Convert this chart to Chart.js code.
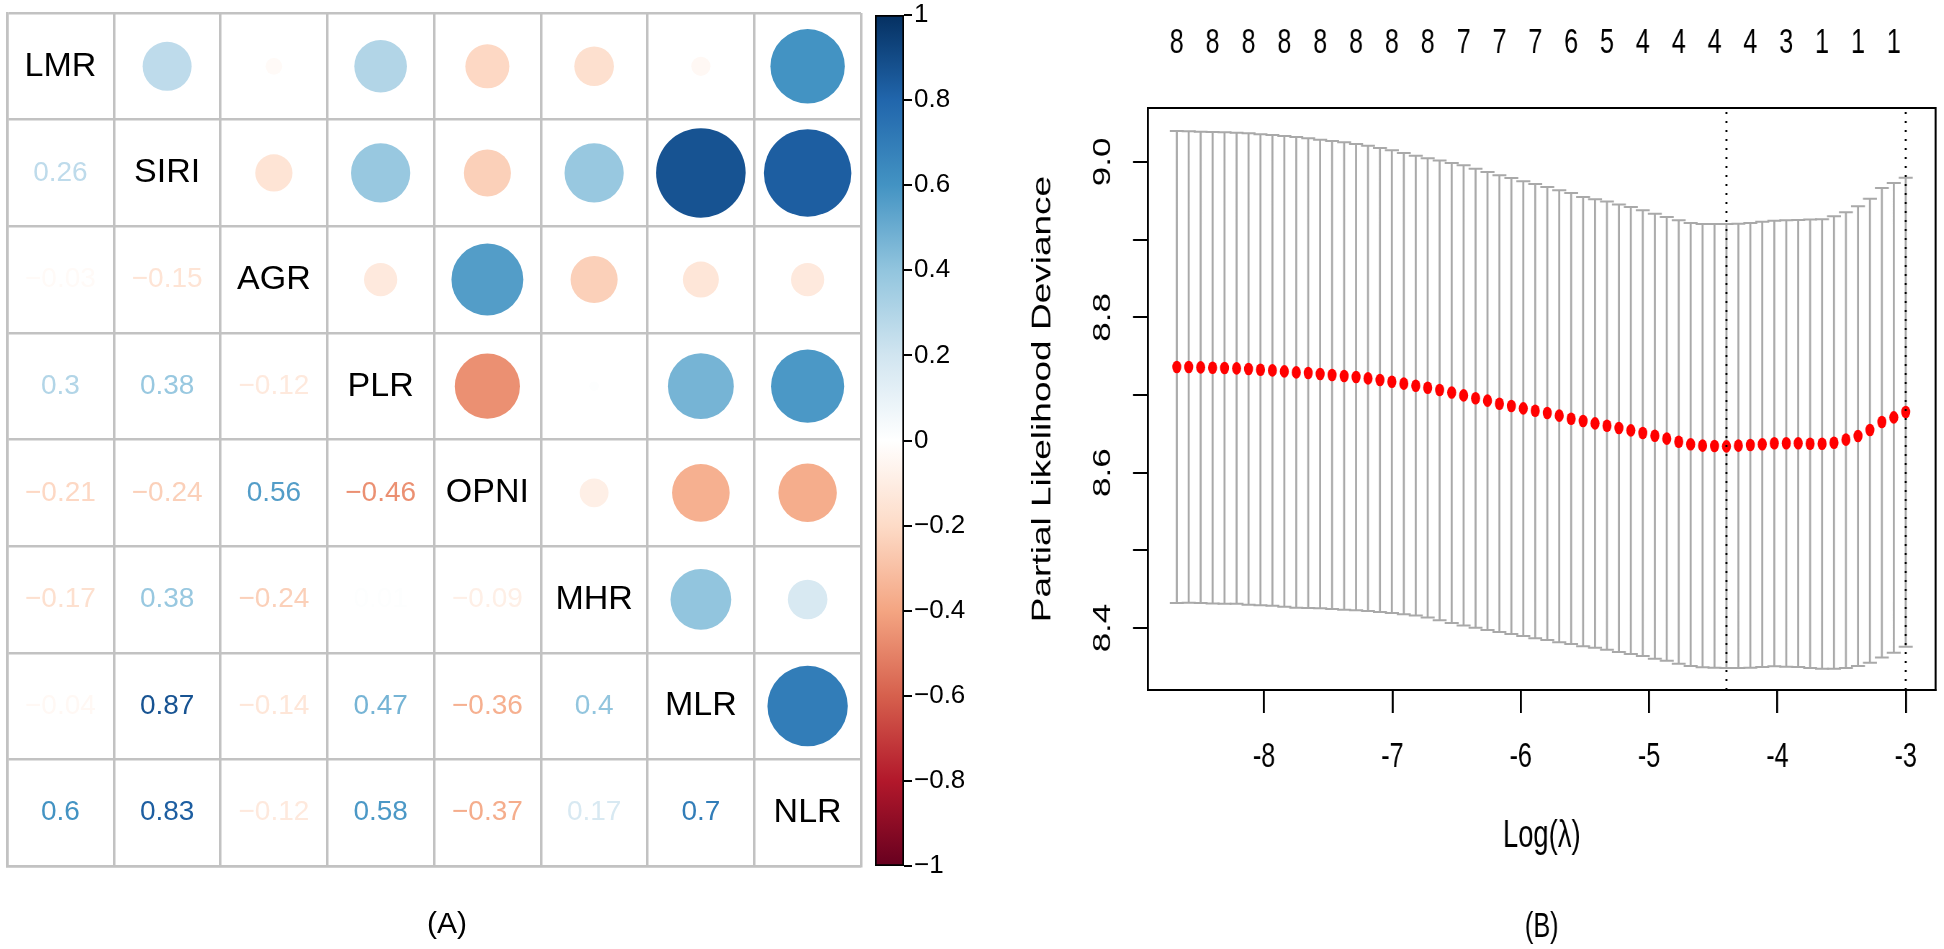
<!DOCTYPE html>
<html>
<head>
<meta charset="utf-8">
<title>Correlation matrix and LASSO CV</title>
<script src="https://cdn.jsdelivr.net/npm/chart.js@4.4.1/dist/chart.umd.min.js"></script>
<style>
  html, body { margin: 0; padding: 0; background: #fff; }
  body { width: 1944px; height: 949px; position: relative; overflow: hidden; }
  canvas { position: absolute; top: 0; }
  #corr-canvas { left: 0; }
  #colorbar-canvas { left: 860px; }
  /* panel B is horizontally squeezed in the original figure */
  #cv-canvas { left: 1000px; transform: scaleX(0.72); transform-origin: 0 0; }
</style>
</head>
<body>
<canvas id="corr-canvas" width="894" height="949"></canvas>
<canvas id="colorbar-canvas" width="130" height="949"></canvas>
<canvas id="cv-canvas" width="1311" height="949"></canvas>
<script>
// ---- panel A data ----
const varNames = ['LMR', 'SIRI', 'AGR', 'PLR', 'OPNI', 'MHR', 'MLR', 'NLR'];
// lower triangle, row i holds correlations with columns 0..i-1
const corrLower = [
    [],
    [0.26],
    [-0.03, -0.15],
    [0.3, 0.38, -0.12],
    [-0.21, -0.24, 0.56, -0.46],
    [-0.17, 0.38, -0.24, 0.01, -0.09],
    [-0.04, 0.87, -0.14, 0.47, -0.36, 0.4],
    [0.6, 0.83, -0.12, 0.58, -0.37, 0.17, 0.7]
];
const rdbu = ['#67001F', '#B2182B', '#D6604D', '#F4A582', '#FDDBC7', '#FFFFFF',
              '#D1E5F0', '#92C5DE', '#4393C3', '#2166AC', '#053061'];

// ---- panel B data ----
const logLambda = [
    -8.680, -8.587, -8.494, -8.401, -8.308, -8.214, -8.121, -8.028, -7.935, -7.842,
    -7.749, -7.656, -7.563, -7.470, -7.376, -7.283, -7.190, -7.097, -7.004, -6.911,
    -6.818, -6.725, -6.632, -6.538, -6.445, -6.352, -6.259, -6.166, -6.073, -5.980,
    -5.887, -5.793, -5.700, -5.607, -5.514, -5.421, -5.328, -5.235, -5.142, -5.049,
    -4.955, -4.862, -4.769, -4.676, -4.583, -4.490, -4.397, -4.304, -4.211, -4.118,
    -4.024, -3.931, -3.838, -3.745, -3.652, -3.559, -3.466, -3.372, -3.279, -3.186,
    -3.093, -3.000
];
const cvMean = [
    8.7360, 8.7360, 8.7356, 8.7351, 8.7347, 8.7343, 8.7334, 8.7326, 8.7317, 8.7304,
    8.7291, 8.7283, 8.7270, 8.7257, 8.7244, 8.7231, 8.7214, 8.7193, 8.7171, 8.7146,
    8.7120, 8.7094, 8.7064, 8.7032, 8.6995, 8.6959, 8.6927, 8.6888, 8.6858, 8.6828,
    8.6798, 8.6768, 8.6734, 8.6695, 8.6665, 8.6635, 8.6605, 8.6575, 8.6545, 8.6511,
    8.6476, 8.6438, 8.6399, 8.6365, 8.6348, 8.6343, 8.6339, 8.6348, 8.6356, 8.6365,
    8.6378, 8.6378, 8.6378, 8.6373, 8.6373, 8.6386, 8.6425, 8.6472, 8.6549, 8.6652,
    8.6712, 8.6781
];
const cvUp = [
    9.0399, 9.0395, 9.0390, 9.0386, 9.0382, 9.0375, 9.0369, 9.0358, 9.0347, 9.0335,
    9.0322, 9.0305, 9.0287, 9.0270, 9.0253, 9.0232, 9.0210, 9.0180, 9.0150, 9.0115,
    9.0080, 9.0048, 9.0018, 8.9987, 8.9957, 8.9914, 8.9871, 8.9828, 8.9794, 8.9751,
    8.9717, 8.9678, 8.9635, 8.9601, 8.9550, 8.9520, 8.9490, 8.9451, 8.9421, 8.9378,
    8.9335, 8.9292, 8.9249, 8.9215, 8.9202, 8.9202, 8.9202, 8.9206, 8.9215, 8.9232,
    8.9245, 8.9249, 8.9254, 8.9258, 8.9262, 8.9301, 8.9352, 8.9430, 8.9528, 8.9665,
    8.9730, 8.9798
];
const cvLo = [
    8.4321, 8.4325, 8.4322, 8.4316, 8.4312, 8.4311, 8.4299, 8.4294, 8.4287, 8.4273,
    8.4262, 8.4258, 8.4253, 8.4244, 8.4235, 8.4229, 8.4218, 8.4206, 8.4192, 8.4177,
    8.4160, 8.4135, 8.4100, 8.4065, 8.4034, 8.4004, 8.3974, 8.3949, 8.3923, 8.3897,
    8.3867, 8.3846, 8.3816, 8.3794, 8.3764, 8.3747, 8.3721, 8.3691, 8.3665, 8.3640,
    8.3605, 8.3580, 8.3541, 8.3511, 8.3494, 8.3489, 8.3485, 8.3485, 8.3489, 8.3498,
    8.3507, 8.3502, 8.3498, 8.3485, 8.3477, 8.3477, 8.3485, 8.3511, 8.3554, 8.3622,
    8.3683, 8.3760
];
// number of non-zero coefficients, shown for every 3rd lambda
const nzeroShown = [8, 8, 8, 8, 8, 8, 8, 8, 7, 7, 7, 6, 5, 4, 4, 4, 4, 3, 1, 1, 1];
const nzeroEvery = 3;
const logLambdaMin = -4.397;
const logLambda1se = -3.000;
const xMin = -8.904, xMax = -2.768;
const yMin = 8.3202, yMax = 9.0695;

Chart.defaults.font.family = "'Liberation Sans', Arial, sans-serif";
Chart.defaults.color = '#000';

function hexRgb(h) {
    return [1, 3, 5].map(k => parseInt(h.slice(k, k + 2), 16));
}
function corrColor(v) {
    const t = (v + 1) / 2 * (rdbu.length - 1);
    const k = Math.min(Math.floor(t), rdbu.length - 2);
    const f = t - k;
    const a = hexRgb(rdbu[k]), b = hexRgb(rdbu[k + 1]);
    const c = a.map((av, n) => Math.round(av + (b[n] - av) * f));
    return 'rgb(' + c.join(',') + ')';
}
const fmtNum = v => String(v).replace('-', '\u2212');

// ---------- Panel A: correlation matrix ----------
const circlePoints = [];
varNames.forEach((_, i) => {
    for (let j = i + 1; j < varNames.length; j++) {
        circlePoints.push({ x: j + 0.5, y: i + 0.5, v: corrLower[j][i] });
    }
});

const cellPx = chart => Math.abs(chart.scales.x.getPixelForValue(1) - chart.scales.x.getPixelForValue(0));
const gridGray = '#c2c2c2';

const corrText = {
    id: 'corrText',
    afterDatasetsDraw(chart) {
        const { ctx, scales: { x, y } } = chart;
        ctx.save();
        ctx.textAlign = 'center';
        ctx.textBaseline = 'middle';
        varNames.forEach((name, i) => {
            ctx.fillStyle = '#000';
            ctx.font = "34px 'Liberation Sans', Arial, sans-serif";
            ctx.fillText(name, x.getPixelForValue(i + 0.5), y.getPixelForValue(i + 0.5));
            ctx.font = "28px 'Liberation Sans', Arial, sans-serif";
            corrLower[i].forEach((v, j) => {
                ctx.fillStyle = corrColor(v);
                ctx.fillText(fmtNum(v), x.getPixelForValue(j + 0.5), y.getPixelForValue(i + 0.5));
            });
        });
        ctx.restore();
    }
};

new Chart(document.getElementById('corr-canvas'), {
    type: 'scatter',
    data: {
        datasets: [{
            data: circlePoints,
            pointRadius: ctx => ctx.raw ? 0.45 * Math.sqrt(Math.abs(ctx.raw.v)) * cellPx(ctx.chart) : 0,
            backgroundColor: ctx => ctx.raw ? corrColor(ctx.raw.v) : '#fff',
            borderWidth: 0
        }]
    },
    options: {
        responsive: false,
        animation: false,
        events: [],
        layout: { padding: { top: 13, left: 0, right: 0, bottom: 0 } },
        plugins: {
            legend: { display: false },
            tooltip: { enabled: false },
            title: {
                display: true,
                text: '(A)',
                position: 'bottom',
                color: '#000',
                font: { size: 30, weight: 'normal' },
                padding: { top: 41, bottom: 6 }
            }
        },
        scales: {
            x: {
                type: 'linear', min: 0, max: 8,
                ticks: { display: false, stepSize: 1 },
                grid: { color: gridGray, lineWidth: 2.5, drawTicks: false },
                border: { color: gridGray, width: 2.5 },
                afterFit: s => { s.height = 0; }
            },
            y: {
                type: 'linear', min: 0, max: 8, reverse: true,
                ticks: { display: false, stepSize: 1 },
                grid: { color: gridGray, lineWidth: 2.5, drawTicks: false },
                border: { color: gridGray, width: 2.5 },
                afterFit: s => { s.width = 7; }
            },
            yPad: {
                axis: 'y', position: 'right', display: true,
                ticks: { display: false },
                grid: { display: false, drawTicks: false },
                border: { display: false },
                afterFit: s => { s.width = 33; }
            }
        }
    },
    plugins: [corrText]
});

// ---------- Panel A: colour bar ----------
new Chart(document.getElementById('colorbar-canvas'), {
    type: 'bar',
    data: {
        labels: [''],
        datasets: [{
            data: [[-1, 1]],
            backgroundColor: ctx => {
                const chart = ctx.chart;
                if (!chart.chartArea) return '#fff';
                const y = chart.scales.y;
                const g = chart.ctx.createLinearGradient(0, y.getPixelForValue(-1), 0, y.getPixelForValue(1));
                rdbu.forEach((c, k) => g.addColorStop(k / (rdbu.length - 1), c));
                return g;
            },
            borderColor: '#000',
            borderWidth: 2,
            borderSkipped: false,
            barPercentage: 1,
            categoryPercentage: 1
        }]
    },
    options: {
        responsive: false,
        animation: false,
        events: [],
        layout: { padding: { left: 15, top: 13, bottom: 83, right: 0 } },
        plugins: { legend: { display: false }, tooltip: { enabled: false } },
        scales: {
            x: { display: false },
            y: {
                position: 'right', min: -1, max: 1,
                ticks: {
                    stepSize: 0.2, padding: 2, color: '#000',
                    font: { size: 26, lineHeight: 1 },
                    callback: v => fmtNum(Math.round(v * 10) / 10)
                },
                grid: { drawOnChartArea: false, tickLength: 8, color: '#000', lineWidth: 2 },
                border: { display: false },
                afterFit: s => { s.width = 86; }
            }
        }
    }
});

// ---------- Panel B: cross-validation curve ----------
const errBarSegments = [];
logLambda.forEach((x, i) => {
    errBarSegments.push({ x: x, y: cvLo[i] }, { x: x, y: cvUp[i] }, { x: x, y: null });
});
const capPoints = [];
logLambda.forEach((x, i) => {
    capPoints.push({ x: x, y: cvUp[i] }, { x: x, y: cvLo[i] });
});
const meanPoints = logLambda.map((x, i) => ({ x: x, y: cvMean[i] }));
const refLines = [
    { x: logLambdaMin, y: yMin }, { x: logLambdaMin, y: yMax }, { x: logLambdaMin, y: null },
    { x: logLambda1se, y: yMin }, { x: logLambda1se, y: yMax }
];

new Chart(document.getElementById('cv-canvas'), {
    type: 'scatter',
    data: {
        datasets: [
            {
                data: refLines, showLine: true, spanGaps: false, order: 0,
                borderColor: '#000', borderWidth: 2.8, borderDash: [2, 7], pointRadius: 0
            },
            {
                data: meanPoints, order: 1,
                pointStyle: 'circle', pointRadius: 6.3,
                backgroundColor: '#ff0000', borderWidth: 0
            },
            {
                data: capPoints, order: 2,
                pointStyle: 'line', pointRadius: 9.7,
                borderColor: '#a9a9a9', borderWidth: 2
            },
            {
                data: errBarSegments, showLine: true, spanGaps: false, order: 3,
                borderColor: '#a9a9a9', borderWidth: 2.8, pointRadius: 0
            }
        ]
    },
    options: {
        responsive: false,
        animation: false,
        events: [],
        layout: { padding: { top: 0, left: 0, right: 3, bottom: 0 } },
        plugins: {
            legend: { display: false },
            tooltip: { enabled: false },
            title: {
                display: true,
                text: '(B)',
                position: 'bottom',
                fullSize: false,
                color: '#000',
                font: { size: 35, weight: 'normal' },
                padding: { top: 46.8, bottom: 1 }
            }
        },
        scales: {
            x: {
                type: 'linear', position: 'bottom', min: xMin, max: xMax,
                ticks: {
                    stepSize: 1, includeBounds: false, padding: 23,
                    autoSkip: false, maxRotation: 0, color: '#000',
                    font: { size: 35 },
                    callback: v => String(v)
                },
                grid: { drawOnChartArea: false, tickLength: 23, color: '#000', lineWidth: 2.8 },
                border: { color: '#000', width: 2 },
                title: { display: true, text: 'Log(\u03bb)', color: '#000', font: { size: 38 }, padding: 0 },
                afterFit: s => { s.height = 169.2; }
            },
            xTop: {
                type: 'linear', axis: 'x', position: 'top', display: true, min: xMin, max: xMax,
                afterBuildTicks: s => {
                    s.ticks = nzeroShown.map((_, k) => ({ value: logLambda[k * nzeroEvery] }));
                },
                ticks: {
                    padding: 44, autoSkip: false, maxRotation: 0, color: '#000',
                    font: { size: 35 },
                    callback: (v, k) => String(nzeroShown[k])
                },
                grid: { display: false, drawTicks: false },
                border: { color: '#000', width: 2 },
                afterFit: s => { s.height = 108; }
            },
            y: {
                type: 'linear', position: 'left', min: yMin, max: yMax,
                ticks: {
                    stepSize: 0.1, includeBounds: false,
                    minRotation: 90, maxRotation: 90, crossAlign: 'center',
                    padding: 17, color: '#000', font: { size: 35 },
                    callback: v => (Math.round(v * 10) % 2 === 0 ? v.toFixed(1) : '')
                },
                grid: { drawOnChartArea: false, tickLength: 20.8, color: '#000', lineWidth: 2 },
                border: { color: '#000', width: 2.8 },
                title: {
                    display: true, text: 'Partial Likelihood Deviance', color: '#000',
                    font: { size: 37 }, padding: { top: 37.5, bottom: 0 }
                },
                afterFit: s => { s.width = 205.6; }
            },
            yRight: {
                type: 'linear', axis: 'y', position: 'right', display: true, min: yMin, max: yMax,
                ticks: { display: false },
                grid: { display: false, drawTicks: false },
                border: { color: '#000', width: 2.8 },
                afterFit: s => { s.width = 0; }
            }
        }
    }
});
</script>
</body>
</html>
